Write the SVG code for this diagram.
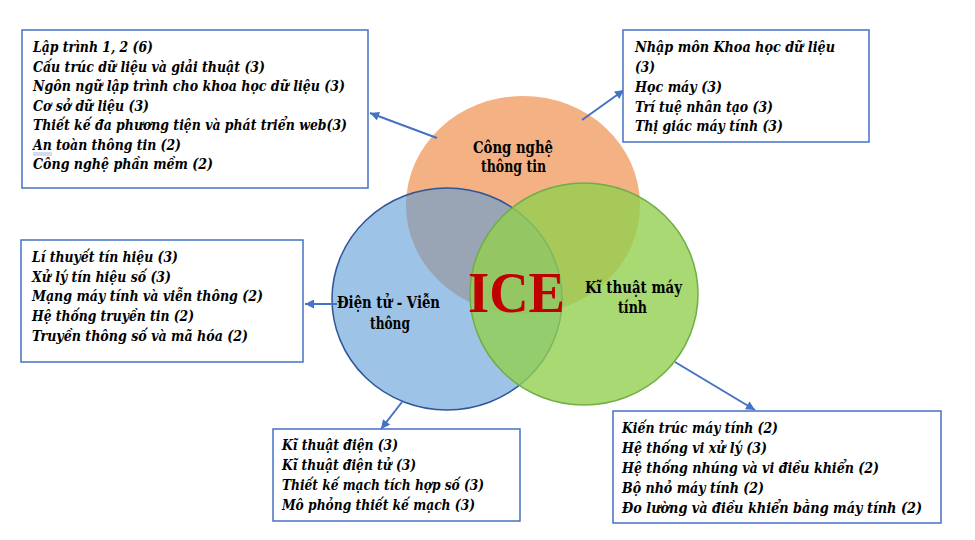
<svg xmlns="http://www.w3.org/2000/svg" width="975" height="540" viewBox="0 0 975 540">
  <style>
    .box { fill: #ffffff; stroke: #4472C4; stroke-width: 1.5; }
    .item { font-family: "DejaVu Serif", serif; font-size: 15px; font-weight: bold; font-style: italic; fill: #000000; }
    .lbl { font-family: "DejaVu Serif", serif; font-size: 16px; font-weight: bold; fill: #000000; }
    .ice { font-family: "Liberation Serif", serif; font-size: 58px; font-weight: bold; fill: #C00000; }
    .conn { stroke: #4472C4; stroke-width: 2; fill: none; marker-end: url(#ah); }
  </style>
  <defs>
    <marker id="ah" viewBox="0 0 10 10" refX="10" refY="5" markerWidth="10" markerHeight="9" markerUnits="userSpaceOnUse" orient="auto">
      <path d="M0,0 L10,5 L0,10 z" fill="#4472C4"/>
    </marker>
  </defs>
  <rect width="975" height="540" fill="#ffffff"/>

  <g id="venn">
    <g id="node-cntt">
      <ellipse cx="523" cy="205" rx="117" ry="109" fill="#F4B183"/>
    </g>
    <g id="node-dtvt">
      <ellipse cx="447" cy="299" rx="115" ry="111" fill="#5B9BD5" fill-opacity="0.6" stroke="#2F5597" stroke-width="1.5"/>
    </g>
    <g id="node-ktmt">
      <ellipse cx="584" cy="294" rx="114" ry="111" fill="#92D050" fill-opacity="0.8" stroke="#70AD47" stroke-width="1.5"/>
    </g>
    <text class="lbl" x="473" y="153" textLength="80" lengthAdjust="spacingAndGlyphs">Công nghệ</text>
    <text class="lbl" x="481" y="172" textLength="65" lengthAdjust="spacingAndGlyphs">thông tin</text>
    <text class="lbl" x="337" y="308" textLength="103" lengthAdjust="spacingAndGlyphs">Điện tử - Viễn</text>
    <text class="lbl" x="370" y="329" textLength="40" lengthAdjust="spacingAndGlyphs">thông</text>
    <text class="lbl" x="585" y="293" textLength="97" lengthAdjust="spacingAndGlyphs">Kĩ thuật máy</text>
    <text class="lbl" x="618" y="313" textLength="29" lengthAdjust="spacingAndGlyphs">tính</text>
    <g id="node-ice">
      <text class="ice" x="468" y="312" textLength="97" lengthAdjust="spacingAndGlyphs">ICE</text>
    </g>
  </g>

  <g id="connectors">
    <line class="conn" x1="437" y1="138" x2="370" y2="113"/>
    <line class="conn" x1="582" y1="120" x2="624" y2="90"/>
    <line class="conn" x1="337" y1="304" x2="305" y2="304"/>
    <line class="conn" x1="402" y1="402" x2="381" y2="429"/>
    <line class="conn" x1="675" y1="362" x2="755" y2="410"/>
  </g>

  <g id="box-cntt">
    <rect class="box" x="22" y="30" width="346" height="158"/>
    <text class="item" x="33" y="52" textLength="120" lengthAdjust="spacingAndGlyphs">Lập trình 1, 2 (6)</text>
    <text class="item" x="33" y="71.5" textLength="232" lengthAdjust="spacingAndGlyphs">Cấu trúc dữ liệu và giải thuật (3)</text>
    <text class="item" x="33" y="91" textLength="312" lengthAdjust="spacingAndGlyphs">Ngôn ngữ lập trình cho khoa học dữ liệu (3)</text>
    <text class="item" x="33" y="110.5" textLength="116" lengthAdjust="spacingAndGlyphs">Cơ sở dữ liệu (3)</text>
    <text class="item" x="33" y="130" textLength="314" lengthAdjust="spacingAndGlyphs">Thiết kế đa phương tiện và phát triển web(3)</text>
    <text class="item" x="33" y="149.5" textLength="148" lengthAdjust="spacingAndGlyphs">An toàn thông tin (2)</text>
    <text class="item" x="33" y="169" textLength="180" lengthAdjust="spacingAndGlyphs">Công nghệ phần mềm (2)</text>
    <path d="M33,153 L52,153 M33,155 L52,155" stroke="#8FAADC" stroke-width="0.8" fill="none"/>
  </g>

  <g id="box-khdl">
    <rect class="box" x="623" y="30" width="246" height="112"/>
    <text class="item" x="635" y="52" textLength="200" lengthAdjust="spacingAndGlyphs">Nhập môn Khoa học dữ liệu</text>
    <text class="item" x="635" y="72" textLength="20" lengthAdjust="spacingAndGlyphs">(3)</text>
    <text class="item" x="635" y="92" textLength="87" lengthAdjust="spacingAndGlyphs">Học máy (3)</text>
    <text class="item" x="635" y="111.5" textLength="138" lengthAdjust="spacingAndGlyphs">Trí tuệ nhân tạo (3)</text>
    <text class="item" x="635" y="131" textLength="148" lengthAdjust="spacingAndGlyphs">Thị giác máy tính (3)</text>
  </g>

  <g id="box-dtvt">
    <rect class="box" x="21" y="240" width="282" height="122"/>
    <text class="item" x="32" y="262" textLength="146" lengthAdjust="spacingAndGlyphs">Lí thuyết tín hiệu (3)</text>
    <text class="item" x="32" y="281.5" textLength="139" lengthAdjust="spacingAndGlyphs">Xử lý tín hiệu số (3)</text>
    <text class="item" x="32" y="301" textLength="231" lengthAdjust="spacingAndGlyphs">Mạng máy tính và viễn thông (2)</text>
    <text class="item" x="32" y="321" textLength="162" lengthAdjust="spacingAndGlyphs">Hệ thống truyền tin (2)</text>
    <text class="item" x="32" y="341" textLength="216" lengthAdjust="spacingAndGlyphs">Truyền thông số và mã hóa (2)</text>
  </g>

  <g id="box-dien">
    <rect class="box" x="273" y="429" width="247" height="92"/>
    <text class="item" x="282" y="450" textLength="116" lengthAdjust="spacingAndGlyphs">Kĩ thuật điện (3)</text>
    <text class="item" x="282" y="470" textLength="134" lengthAdjust="spacingAndGlyphs">Kĩ thuật điện tử (3)</text>
    <text class="item" x="282" y="490" textLength="202" lengthAdjust="spacingAndGlyphs">Thiết kế mạch tích hợp số (3)</text>
    <text class="item" x="282" y="510" textLength="193" lengthAdjust="spacingAndGlyphs">Mô phỏng thiết kế mạch (3)</text>
  </g>

  <g id="box-ktmt">
    <rect class="box" x="613" y="411" width="328" height="112"/>
    <text class="item" x="622" y="433" textLength="156" lengthAdjust="spacingAndGlyphs">Kiến trúc máy tính (2)</text>
    <text class="item" x="622" y="453" textLength="145" lengthAdjust="spacingAndGlyphs">Hệ thống vi xử lý (3)</text>
    <text class="item" x="622" y="473" textLength="257" lengthAdjust="spacingAndGlyphs">Hệ thống nhúng và vi điều khiển (2)</text>
    <text class="item" x="622" y="493" textLength="142" lengthAdjust="spacingAndGlyphs">Bộ nhỏ máy tính (2)</text>
    <text class="item" x="622" y="513" textLength="300" lengthAdjust="spacingAndGlyphs">Đo lường và điều khiển bằng máy tính (2)</text>
  </g>
</svg>
